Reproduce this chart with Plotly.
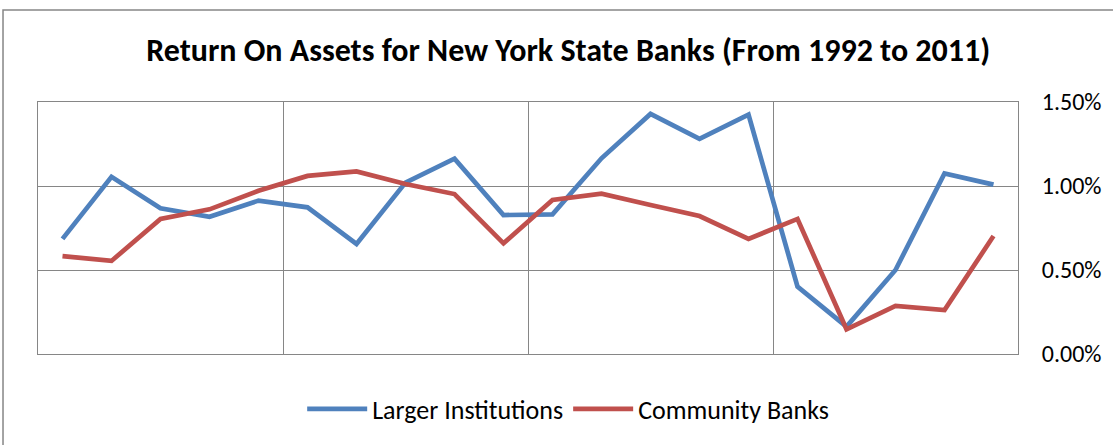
import plotly.graph_objects as go

years = list(range(1992, 2012))
larger = [0.685, 1.055, 0.867, 0.817, 0.913, 0.873, 0.655, 1.020, 1.163, 0.827,
          0.831, 1.165, 1.429, 1.280, 1.425, 0.401, 0.163, 0.500, 1.075, 1.008]
community = [0.583, 0.554, 0.804, 0.861, 0.972, 1.060, 1.087, 1.012, 0.952, 0.659,
             0.917, 0.954, 0.887, 0.821, 0.685, 0.804, 0.147, 0.286, 0.262, 0.702]
y_ticks = [0.0, 0.5, 1.0, 1.5]
y_tick_labels = ["0.00%", "0.50%", "1.00%", "1.50%"]

idx = list(range(len(years)))
font_main = "Carlito, Calibri, 'Open Sans', sans-serif"

fig = go.Figure()
fig.add_trace(go.Scatter(x=idx, y=larger, mode="lines", name="Larger Institutions",
                         line=dict(color="#4F81BD", width=4.7)))
fig.add_trace(go.Scatter(x=idx, y=community, mode="lines", name="Community Banks",
                         line=dict(color="#C0504D", width=4.7)))

fig.update_layout(
    width=1113, height=445,
    margin=dict(l=38, r=95, t=102, b=91, autoexpand=False),
    paper_bgcolor="white", plot_bgcolor="white",
    font=dict(family=font_main, color="black"),
    title=dict(text="<b>Return On Assets for New York State Banks (From 1992 to 2011)</b>",
               xref="paper", x=0.541, xanchor="center", y=0.888, yanchor="middle",
               font=dict(size=32, family=font_main)),
    showlegend=True,
    legend=dict(orientation="h", x=0.541, xanchor="center", y=-0.218, yanchor="middle",
                font=dict(size=26, family=font_main), itemwidth=60, tracegroupgap=0),
    xaxis=dict(range=[-0.5, 19.5], tickvals=[-0.5, 4.5, 9.5, 14.5, 19.5], showticklabels=False,
               showgrid=True, gridcolor="#868686", gridwidth=1, zeroline=False,
               showline=True, linecolor="#868686", linewidth=1, mirror=True, ticks=""),
    yaxis=dict(range=[0, 1.5], tickvals=y_ticks, ticktext=y_tick_labels,
               side="right", showgrid=True, gridcolor="#868686", gridwidth=1, zeroline=False,
               showline=True, linecolor="#868686", linewidth=1, mirror=True, ticks="",
               ticklabelstandoff=18, tickfont=dict(size=24, family=font_main)),
    shapes=[dict(type="rect", xref="paper", yref="paper", x0=-0.0357, x1=1.2, y0=-0.6, y1=1.365,
                 line=dict(color="#868686", width=1.5), fillcolor="rgba(0,0,0,0)", layer="below")],
)

fig.write_html("out.html", config={"displayModeBar": False},
               post_script="document.body.style.margin='0';")
